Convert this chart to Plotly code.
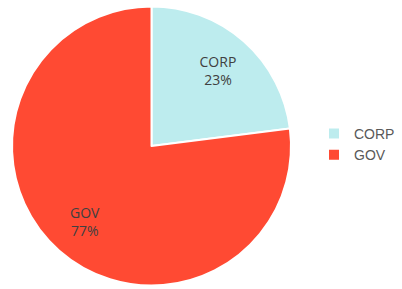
import plotly.graph_objects as go

labels = ["CORP", "GOV"]
values = [23, 77]
colors = ["#BDECEE", "#FF4A33"]

W, H = 402, 289
ML, MR = 0, 110
PW = W - ML - MR
dom = dict(x=[12 / PW, 291 / PW], y=[1 - 286 / H, 1 - 6 / H])

fig = go.Figure()
# the filled pie with separators and legend
fig.add_trace(go.Pie(
    labels=labels,
    values=values,
    sort=False,
    direction="clockwise",
    rotation=0,
    marker=dict(colors=colors, line=dict(color="white", width=2)),
    textinfo="none",
    domain=dom,
    hoverinfo="label+percent",
    showlegend=True,
))
# transparent ring that carries the slice labels further out
fig.add_trace(go.Pie(
    labels=labels,
    values=values,
    sort=False,
    direction="clockwise",
    rotation=0,
    hole=0.44,
    marker=dict(colors=["rgba(0,0,0,0)"] * len(labels), line=dict(width=0)),
    texttemplate="%{label}<br>%{percent:.0%}",
    textposition="inside",
    insidetextorientation="horizontal",
    textfont=dict(family="Open Sans", size=14, color="#404040"),
    domain=dom,
    hoverinfo="skip",
    showlegend=False,
))

fig.update_layout(
    width=W, height=H,
    margin=dict(l=ML, r=MR, t=0, b=0),
    paper_bgcolor="white",
    plot_bgcolor="white",
    showlegend=True,
    legend=dict(
        x=314 / PW, y=0.5, xanchor="left", yanchor="middle",
        font=dict(family="Liberation Sans", size=14, color="#595959"),
    ),
)

fig.write_html(
    "out.html",
    config={"displayModeBar": False},
    post_script="document.body.style.margin='0';",
)
